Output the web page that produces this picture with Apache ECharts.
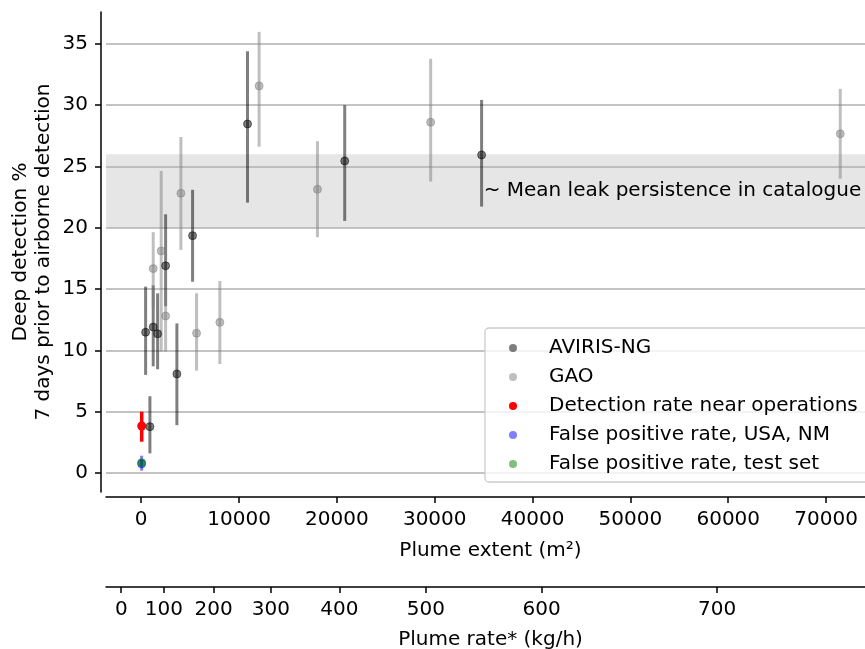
<!DOCTYPE html>
<html>
<head>
<meta charset="utf-8">
<script src="https://cdn.jsdelivr.net/npm/echarts@6/dist/echarts.min.js"></script>
<style>html,body{margin:0;padding:0;background:#fff;}#c{width:865px;height:649px;}</style>
</head>
<body>
<div id="c"></div>
<script>
// ---- data ----
const avirisX  = [449, 1225, 1675, 2492, 3646, 5249, 888, 10865, 20800, 34790];
const avirisY  = [11.48, 11.9, 11.35, 16.9, 8.08, 19.36, 3.78, 28.47, 25.45, 25.94];
const avirisLo = [8.0, 8.7, 8.46, 13.6, 3.9, 15.6, 1.6, 22.05, 20.56, 21.73];
const avirisHi = [15.2, 15.3, 14.65, 21.1, 12.2, 23.1, 6.26, 34.4, 30.0, 30.43];

const gaoX  = [4054, 2042, 1225, 2492, 5657, 8036, 12049, 18013, 29583, 71449];
const gaoY  = [22.82, 18.11, 16.67, 12.81, 11.4, 12.29, 31.57, 23.14, 28.61, 27.66];
const gaoLo = [18.2, 9.9, 13.5, 9.9, 8.35, 8.89, 26.62, 19.23, 23.77, 24.0];
const gaoHi = [27.4, 24.64, 19.64, 15.0, 14.66, 15.66, 35.98, 27.06, 33.78, 31.33];

const opsX = [50],  opsY = [3.83], opsLo = [2.55], opsHi = [5.0];
const nmX  = [40],  nmY  = [0.75], nmLo  = [0.19], nmHi  = [1.41];
const testX = [40], testY = [0.84], testLo = [0.58], testHi = [1.1];

const seriesNames = ['AVIRIS-NG', 'GAO', 'Detection rate near operations',
                     'False positive rate, USA, NM', 'False positive rate, test set'];

const yTicks = [0, 5, 10, 15, 20, 25, 30, 35];
const xTicks = [0, 10000, 20000, 30000, 40000, 50000, 60000, 70000];
// secondary axis: plume rate tick labels and their positions on the extent scale
const rateTickLabels    = [0, 100, 200, 300, 400, 500, 600, 700];
const rateTickPositions = [-2042, 2318, 7393, 13244, 20249, 29103, 40917, 58859];

const bandLow = 20, bandHigh = 26;
const bandText = '~ Mean leak persistence in catalogue';
const bandTextPos = [35000, 23.05];

// ---- chart ----
const FONT = 'DejaVu Sans';
const FS = 20;
const chart = echarts.init(document.getElementById('c'), null, {renderer: 'canvas'});

function zip(x, y, lo, hi) { return x.map((v, i) => [v, y[i], lo[i], hi[i]]); }

function errSeries(name, data, color, width) {
  return {
    type: 'custom', name: name + ' err', z: 3, silent: true,
    data: data,
    encode: {x: 0, y: [1, 2, 3]},
    renderItem: function (params, api) {
      const x = api.value(0);
      const p1 = api.coord([x, api.value(2)]);
      const p2 = api.coord([x, api.value(3)]);
      return {type: 'line', shape: {x1: p1[0], y1: p1[1], x2: p2[0], y2: p2[1]},
              style: {stroke: color, lineWidth: width, lineCap: 'butt'}};
    }
  };
}
function ptSeries(name, data, color, border, size) {
  return {
    type: 'scatter', name: name, z: 4, silent: true,
    data: data.map(d => [d[0], d[1]]),
    symbol: 'circle', symbolSize: size || 8,
    itemStyle: {color: color, borderColor: border ? color : 'transparent', borderWidth: border ? 1 : 0, opacity: 1}
  };
}

const cAv = 'rgba(0,0,0,0.5)', cGao = 'rgba(128,128,128,0.5)', cOps = '#ff0000',
      cNm = 'rgba(0,0,255,0.5)', cTest = 'rgba(0,128,0,0.5)';

const dAv = zip(avirisX, avirisY, avirisLo, avirisHi);
const dGao = zip(gaoX, gaoY, gaoLo, gaoHi);
const dOps = zip(opsX, opsY, opsLo, opsHi);
const dNm = zip(nmX, nmY, nmLo, nmHi);
const dTest = zip(testX, testY, testLo, testHi);

const axisLineStyle = {color: '#000', width: 1.5};
const labelStyle = {color: '#000', fontFamily: FONT, fontSize: FS};

const option = {
  animation: false,
  grid: {left: 106, top: 12, width: 769, height: 480, containLabel: false, outerBoundsMode: 'none'},
  xAxis: [{
    type: 'value', min: -3600, max: 75000, position: 'bottom', offset: 5,
    name: 'Plume extent (m²)', nameLocation: 'middle', nameGap: 44,
    nameTextStyle: {color: '#000', fontFamily: FONT, fontSize: FS},
    axisLine: {show: true, onZero: false, lineStyle: axisLineStyle},
    axisTick: {show: true, length: 6, lineStyle: {color: '#000', width: 1.5}, customValues: xTicks},
    axisLabel: Object.assign({margin: 13, customValues: xTicks, formatter: v => String(v)}, labelStyle),
    splitLine: {show: false}
  }, {
    type: 'value', min: -3600, max: 75000, position: 'bottom', offset: 95,
    name: 'Plume rate* (kg/h)', nameLocation: 'middle', nameGap: 43,
    nameTextStyle: {color: '#000', fontFamily: FONT, fontSize: FS},
    axisLine: {show: true, onZero: false, lineStyle: axisLineStyle},
    axisTick: {show: true, length: 6, lineStyle: {color: '#000', width: 1.5}, customValues: rateTickPositions},
    axisLabel: Object.assign({margin: 13, customValues: rateTickPositions,
      formatter: v => { const i = rateTickPositions.indexOf(v); return i >= 0 ? String(rateTickLabels[i]) : ''; }}, labelStyle),
    splitLine: {show: false}
  }],
  yAxis: {
    type: 'value', min: -1.55, max: 37.6, position: 'left', offset: 5,
    name: 'Deep detection %\n7 days prior to airborne detection',
    nameLocation: 'middle', nameGap: 46, nameRotate: 90, nameMoveOverlap: false,
    nameTextStyle: {color: '#000', fontFamily: FONT, fontSize: FS, lineHeight: 23, align: 'center'},
    axisLine: {show: true, onZero: false, lineStyle: axisLineStyle},
    axisTick: {show: true, length: 6, lineStyle: {color: '#000', width: 1.5}, customValues: yTicks},
    axisLabel: Object.assign({margin: 13, customValues: yTicks, formatter: v => String(v)}, labelStyle),
    splitLine: {show: false}
  },
  legend: {
    orient: 'vertical', left: 485, top: 328,
    data: seriesNames,
    icon: 'circle', itemWidth: 20, itemHeight: 8, itemGap: 9,
    padding: [10, 40, 8, 24],
    backgroundColor: 'rgba(255,255,255,0.8)',
    borderColor: '#cccccc', borderWidth: 1.3, borderRadius: 4,
    itemStyle: {borderWidth: 0},
    formatter: name => '{s|}' + name,
    textStyle: {color: '#000', fontFamily: FONT, fontSize: FS,
                rich: {s: {width: 21, fontSize: FS, fontFamily: FONT}}},
    selectedMode: false
  },
  series: [
    {
      type: 'scatter', name: 'band', data: [], silent: true, z: 1,
      markArea: {
        silent: true, z: 1,
        itemStyle: {color: 'rgba(128,128,128,0.2)', borderWidth: 0},
        data: [[{yAxis: bandLow, xAxis: -3600}, {yAxis: bandHigh, xAxis: 75000}]]
      },
      markPoint: {
        silent: true, z: 6, symbol: 'circle', symbolSize: 0,
        label: {show: true, position: 'right', distance: 0, formatter: bandText,
                color: '#000', fontFamily: FONT, fontSize: FS},
        data: [{coord: bandTextPos}]
      }
    },
    {
      type: 'scatter', name: 'grid', data: [], silent: true, z: 2,
      markLine: {
        silent: true, z: 2, symbol: ['none', 'none'],
        label: {show: false},
        lineStyle: {color: '#b0b0b0', width: 1.5, type: 'solid'},
        emphasis: {disabled: true},
        data: yTicks.map(v => ({yAxis: v}))
      }
    },
    errSeries('AVIRIS-NG', dAv, cAv, 3),
    errSeries('GAO', dGao, cGao, 3),
    errSeries('ops', dOps, cOps, 3.5),
    errSeries('nm', dNm, cNm, 3),
    errSeries('test', dTest, cTest, 3),
    ptSeries(seriesNames[0], dAv, cAv, true),
    ptSeries(seriesNames[1], dGao, cGao, true),
    ptSeries(seriesNames[2], dOps, cOps, false, 9),
    ptSeries(seriesNames[3], dNm, cNm, true),
    ptSeries(seriesNames[4], dTest, cTest, true)
  ]
};
chart.setOption(option);
</script>
</body>
</html>
